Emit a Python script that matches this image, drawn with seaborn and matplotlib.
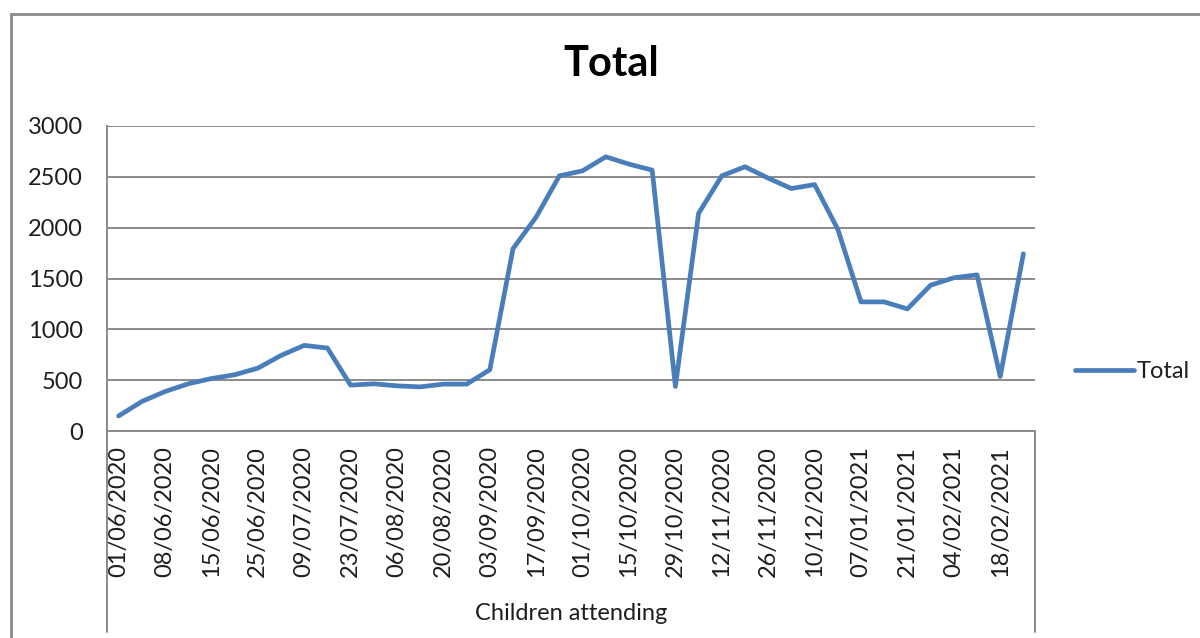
import matplotlib
matplotlib.use("Agg")
import matplotlib.pyplot as plt
import matplotlib.transforms as mtransforms
from matplotlib.patches import Rectangle
import seaborn as sns
import pandas as pd
import numpy as np

# weekly-ish attendance readings (odd dates are hidden on the axis, guessed)
dates = [
    "01/06/2020", "04/06/2020", "08/06/2020", "11/06/2020", "15/06/2020",
    "18/06/2020", "25/06/2020", "02/07/2020", "09/07/2020", "16/07/2020",
    "23/07/2020", "30/07/2020", "06/08/2020", "13/08/2020", "20/08/2020",
    "27/08/2020", "03/09/2020", "10/09/2020", "17/09/2020", "24/09/2020",
    "01/10/2020", "08/10/2020", "15/10/2020", "22/10/2020", "29/10/2020",
    "05/11/2020", "12/11/2020", "19/11/2020", "26/11/2020", "03/12/2020",
    "10/12/2020", "17/12/2020", "07/01/2021", "14/01/2021", "21/01/2021",
    "28/01/2021", "04/02/2021", "11/02/2021", "18/02/2021", "25/02/2021",
]
totals = [
    148, 290, 388, 464, 516, 553, 618, 743, 842, 816,
    451, 464, 444, 434, 461, 461, 602, 1793, 2105, 2510,
    2559, 2697, 2625, 2566, 438, 2141, 2510, 2599, 2487, 2385,
    2424, 1984, 1270, 1270, 1201, 1434, 1507, 1536, 536, 1743,
]
y_ticks = [0, 500, 1000, 1500, 2000, 2500, 3000]
series_name = "Total"
group_label = "Children attending"

df = pd.DataFrame({"date": dates, "total": totals})

sns.set_style("white")
plt.rcParams["font.family"] = ["Lato", "DejaVu Sans"]

W, H = 1200, 638
fig = plt.figure(figsize=(W / 100, H / 100), dpi=100)
ax = fig.add_axes([107 / W, 1 - 431 / H, (1035 - 107) / W, (431 - 126) / H])

blue = "#4A7EBB"
grey = "#8A8A8A"
txt = "#1E1E1E"

sns.lineplot(data=df, x="date", y="total", ax=ax, color=blue, linewidth=3.4,
             label=series_name, sort=False)

n = len(dates)
ax.set_xlim(-0.5, n - 0.5)
ax.set_ylim(0, 3000)
ax.set_yticks(y_ticks)
ax.set_yticklabels([str(v) for v in y_ticks], fontsize=17, color=txt)
ax.yaxis.grid(True, color=grey, linewidth=1.4)
ax.xaxis.grid(False)

# category axis: boundaries as long minor ticks, every other date labelled
ax.set_xticks(np.arange(-0.5, n, 1.0), minor=True)
ax.set_xticks(np.arange(0, n, 2))
ax.set_xticklabels(dates[::2], rotation=90, fontsize=17, color=txt)
ax.tick_params(axis="x", which="major", length=0, pad=11)
ax.tick_params(axis="x", which="minor", length=107, width=1.2, color=grey, direction="out")
ax.tick_params(axis="y", which="major", length=7.5, width=1.2, color=grey, direction="out", pad=10)
ax.set_xlabel("")
ax.set_ylabel("")

for side in ["top", "right"]:
    ax.spines[side].set_visible(False)
for side in ["left", "bottom"]:
    ax.spines[side].set_color(grey)
    ax.spines[side].set_linewidth(1.4)

# outer group bracket lines reaching the bottom
trans = mtransforms.blended_transform_factory(ax.transData, ax.transAxes)
for xb in [-0.5, n - 0.5]:
    ax.plot([xb, xb], [0, -0.66], transform=trans, color=grey, linewidth=1.4,
            clip_on=False)

ax.text(0.5, -0.60, group_label, transform=ax.transAxes, ha="center",
        va="center", fontsize=17, color=txt)

# legend on the right
leg = ax.legend(loc="center left", bbox_to_anchor=(1.02, 0.195), frameon=False,
                fontsize=17, handlelength=2.5, handletextpad=0.1)
for t in leg.get_texts():
    t.set_color(txt)

fig.text(611 / W, 1 - 64 / H, "Total", ha="center", va="center",
         fontsize=30, fontweight="bold", color="black")

# chart area border (extends past the right/bottom edge)
fig.patches.append(Rectangle((11 / W, -0.1), 1.2, 1 - 14 / H + 0.1,
                             transform=fig.transFigure, fill=False,
                             edgecolor=grey, linewidth=2))

fig.savefig("out.png", dpi=100)
